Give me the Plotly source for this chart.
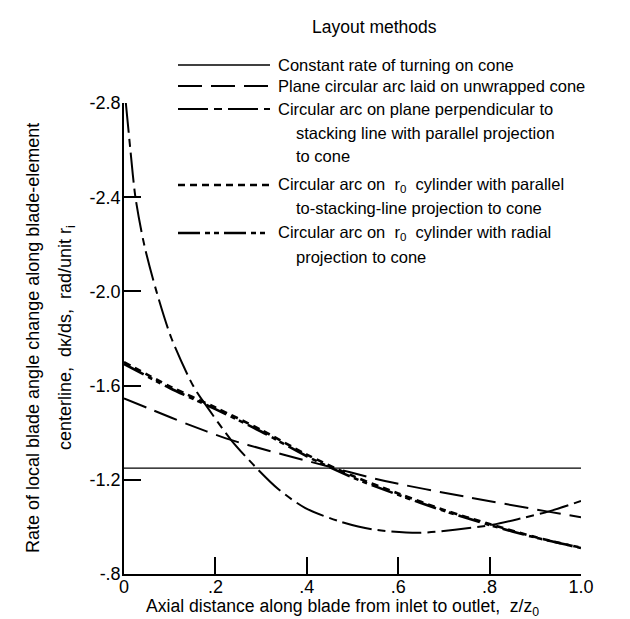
import plotly.graph_objects as go

# ---------------- data ----------------
x_const = [0.0, 1.0]
y_const = [-1.25, -1.25]

x_plane = [0.0, 0.063, 0.143, 0.223, 0.271, 0.411, 0.571, 0.745, 0.925, 1.0]
y_plane = [-1.546, -1.496, -1.433, -1.376, -1.348, -1.275, -1.195, -1.129, -1.066, -1.041]

x_perp = [0.004, 0.008, 0.014, 0.025, 0.044, 0.071, 0.104, 0.151, 0.178, 0.234, 0.286,
          0.338, 0.396, 0.469, 0.542, 0.644, 0.724, 0.807, 0.869, 0.930, 1.0]
y_perp = [-2.80, -2.72, -2.60, -2.40, -2.20, -2.00, -1.80, -1.60, -1.52, -1.370, -1.258,
          -1.160, -1.081, -1.025, -0.990, -0.975, -0.988, -1.009, -1.036, -1.066, -1.110]

x_par = [0.0, 0.1, 0.2, 0.3, 0.4, 0.5, 0.6, 0.7, 0.8, 0.9, 1.0]
y_par = [-1.700, -1.597, -1.507, -1.412, -1.307, -1.217, -1.142, -1.072, -1.012, -0.957, -0.910]

x_rad = [0.0, 0.1, 0.2, 0.3, 0.4, 0.5, 0.6, 0.7, 0.8, 0.9, 1.0]
y_rad = [-1.692, -1.590, -1.500, -1.405, -1.300, -1.210, -1.136, -1.068, -1.008, -0.955, -0.912]

x_tickvals = [0.0, 0.2, 0.4, 0.6, 0.8, 1.0]
x_ticktext = ["0", ".2", ".4", ".6", ".8", "1.0"]
y_tickvals = [-2.8, -2.4, -2.0, -1.6, -1.2, -0.8]
y_ticktext = ["-2.8", "-2.4", "-2.0", "-1.6", "-1.2", "-.8"]

names = [
    "Constant rate of turning on cone",
    "Plane circular arc laid on unwrapped cone",
    "Circular arc on plane perpendicular to<br>stacking line with parallel projection<br>to cone",
    "Circular arc on  r<sub>0</sub>  cylinder with parallel<br>to-stacking-line projection to cone",
    "Circular arc on  r<sub>0</sub>  cylinder with radial<br>projection to cone",
]
legend_title = "Layout methods"
x_title = "Axial distance along blade from inlet to outlet,  z/z<sub>0</sub>"
y_title_lines = ["Rate of local blade angle change along blade-element",
                 "centerline,  d\u03ba/ds,  rad/unit r<sub>i</sub>"]

# ---------------- styles ----------------
FONT = "Liberation Sans, Arial, sans-serif"
dashes = ["solid", "24px,9px", "30px,6px,8px,6px", "7px,5px", "22px,5px,5px,4px,5px,5px"]
widths = [1.3, 2.0, 2.0, 2.6, 2.6]

series = [(x_const, y_const), (x_plane, y_plane), (x_perp, y_perp), (x_par, y_par), (x_rad, y_rad)]

fig = go.Figure()
for (xs, ys), nm, d, w in zip(series, names, dashes, widths):
    fig.add_trace(go.Scatter(x=xs, y=ys, mode="lines", name=nm.replace("<br>", " "),
                             line=dict(color="black", width=w, dash=d, shape="spline", smoothing=0.8),
                             showlegend=False))

# plot area in pixels
L, R, T, B = 116, 573, 95, 566
W, H = 630, 619


def pxx(p):
    return (p - L) / (R - L)


def pxy(p):
    return (B - p) / (B - T)


# manual legend (long line samples like the original)
row_y = [57, 78, 101, 177, 225]
LINE_GAP = 23.5
INDENT = 18
for nm, d, w, yy in zip(names, dashes, widths, row_y):
    fig.add_shape(type="line", xref="paper", yref="paper",
                  x0=pxx(170), x1=pxx(262), y0=pxy(yy), y1=pxy(yy),
                  line=dict(color="black", width=w, dash=d))
    for k, part in enumerate(nm.split("<br>")):
        fig.add_annotation(xref="paper", yref="paper",
                           x=pxx(268 + (INDENT if k else 0)), y=pxy(yy + k * LINE_GAP),
                           xanchor="left", yanchor="middle", showarrow=False,
                           text=part, font=dict(family=FONT, size=16.5, color="black"))

fig.add_annotation(xref="paper", yref="paper", x=pxx(366), y=pxy(19), xanchor="center",
                   yanchor="middle", showarrow=False, text=legend_title,
                   font=dict(family=FONT, size=17.5, color="black"))
fig.add_annotation(xref="paper", yref="paper", x=pxx(334), y=pxy(599), xanchor="center",
                   yanchor="middle", showarrow=False, text=x_title,
                   font=dict(family=FONT, size=17.6, color="black"))
for xc, line in zip([25, 58], y_title_lines):
    fig.add_annotation(xref="paper", yref="paper", x=pxx(xc), y=pxy(330), xanchor="center",
                       yanchor="middle", showarrow=False, text=line, textangle=-90,
                       font=dict(family=FONT, size=18, color="black"))

axis_common = dict(showline=True, linecolor="black", linewidth=1.5, ticks="inside",
                   ticklen=17, tickwidth=1.5, tickcolor="black", showgrid=False,
                   zeroline=False, mirror=False,
                   tickfont=dict(family=FONT, size=18, color="black"))

fig.update_xaxes(range=[0, 1], tickvals=x_tickvals, ticktext=x_ticktext,
                 ticklabelstandoff=-4, **axis_common)
fig.update_yaxes(range=[-0.8, -2.8], tickvals=y_tickvals, ticktext=y_ticktext,
                 ticklabelstandoff=-2, **axis_common)

fig.update_layout(width=W, height=H, margin=dict(l=L, r=W - R, t=T, b=H - B),
                  paper_bgcolor="white", plot_bgcolor="white", showlegend=False,
                  font=dict(family=FONT, size=18, color="black"))

fig.write_html("out.html")
